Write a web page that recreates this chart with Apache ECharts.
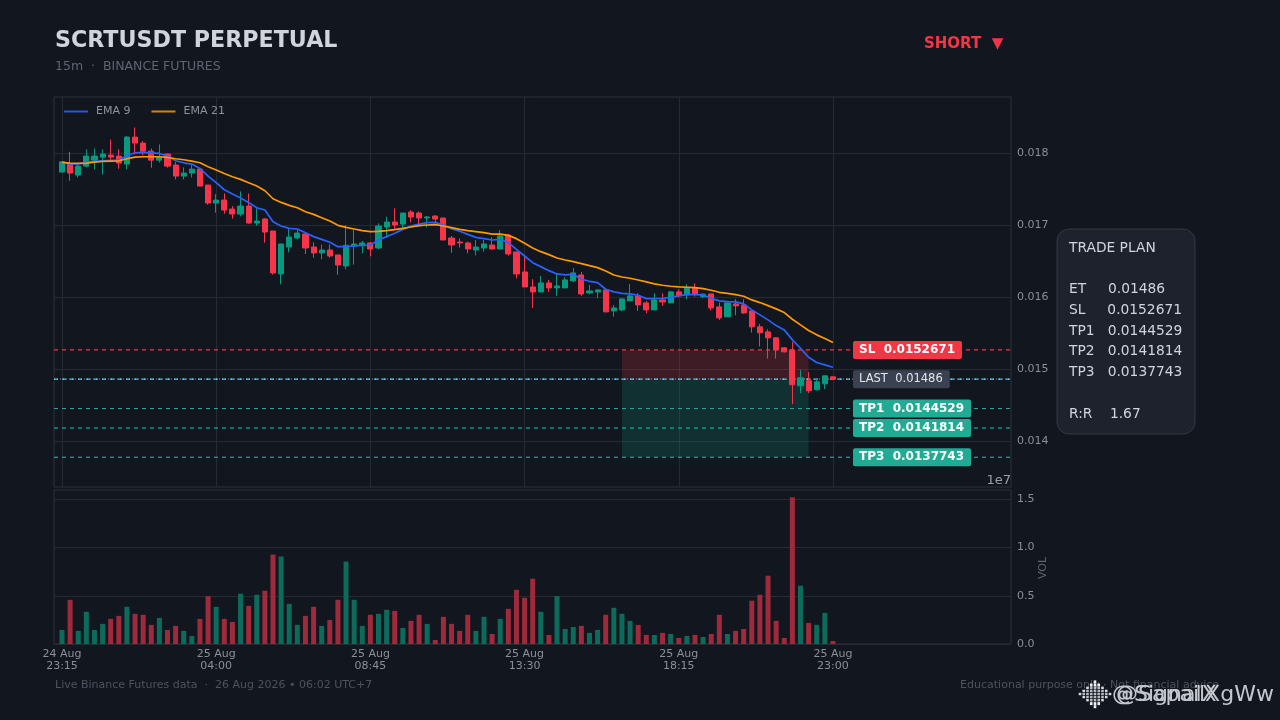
<!DOCTYPE html>
<html><head><meta charset="utf-8">
<script src="https://cdn.jsdelivr.net/npm/echarts@6/dist/echarts.min.js"></script>
<style>html,body{margin:0;padding:0;background:#12161f}#c{width:1280px;height:720px}</style>
</head><body><div id="c"></div>
<script>
const opens=[.017741,.017852,.017699,.017824,.017907,.017949,.017977,.017963,.017852,.018227,.018144,.018032,.017907,.017991,.017838,.017685,.017727,.017782,.017560,.017310,.017352,.017227,.017157,.017268,.017032,.017088,.016921,.016324,.016699,.016824,.016880,.016699,.016616,.016657,.016588,.016435,.016713,.016727,.016755,.016685,.016977,.017046,.017018,.017185,.017171,.017102,.017130,.017102,.016824,.016768,.016755,.016657,.016685,.016727,.016671,.016866,.016630,.016352,.016143,.016074,.016199,.016130,.016130,.016227,.016310,.016060,.016074,.016102,.015810,.015824,.015949,.016019,.015921,.015824,.015963,.015921,.016074,.016032,.016130,.016009,.016046,.015866,.015727,.015907,.015893,.015810,.015588,.015518,.015435,.015296,.015268,.014768,.014838,.014713,.014796,.014893];
const closes=[.017884,.017727,.017824,.017963,.017963,.017991,.017949,.017866,.018227,.018144,.018032,.017907,.017949,.017824,.017685,.017727,.017782,.017546,.017310,.017352,.017213,.017157,.017268,.017032,.017060,.016907,.016338,.016741,.016838,.016893,.016685,.016616,.016657,.016574,.016449,.016722,.016741,.016755,.016671,.016991,.017046,.017005,.017171,.017116,.017102,.017116,.017088,.016796,.016727,.016755,.016671,.016699,.016741,.016671,.016852,.016602,.016324,.016143,.016074,.016199,.016130,.016157,.016241,.016338,.016046,.016088,.016102,.015796,.015852,.015977,.016019,.015893,.015824,.015963,.015935,.016074,.016019,.016130,.016046,.016042,.015852,.015713,.015921,.015880,.015782,.015588,.015505,.015435,.015268,.015241,.014782,.014879,.014699,.014824,.014907,.014860];
const lows=[.017741,.017620,.017667,.017806,.017778,.017708,.017898,.017787,.017778,.017986,.017977,.017801,.017875,.017801,.017639,.017639,.017667,.017546,.017287,.017176,.017162,.017093,.017125,.017023,.016995,.016759,.016315,.016180,.016625,.016805,.016602,.016551,.016528,.016551,.016315,.016389,.016454,.016611,.016569,.016667,.016852,.016944,.016963,.017042,.017005,.016972,.017042,.016796,.016620,.016690,.016611,.016583,.016634,.016667,.016667,.016579,.016264,.016143,.015852,.016074,.016074,.016019,.016125,.016213,.016019,.016042,.015986,.015796,.015731,.015805,.015949,.015810,.015778,.015824,.015879,.015917,.016000,.015972,.016009,.015986,.015815,.015685,.015727,.015750,.015769,.015509,.015315,.015148,.015148,.015231,.014514,.014666,.014666,.014703,.014722,.014847];
const highs=[.017894,.018023,.017838,.018056,.018069,.018056,.018194,.018056,.018241,.018361,.018171,.018069,.018125,.018000,.017880,.017806,.017838,.017792,.017560,.017435,.017444,.017268,.017472,.017444,.017236,.017102,.016921,.016741,.016949,.016935,.016889,.016764,.016731,.016736,.016588,.017005,.016935,.016782,.016768,.017028,.017120,.017236,.017171,.017213,.017194,.017130,.017139,.017102,.016852,.016819,.016773,.016796,.016796,.016833,.016935,.016875,.016630,.016588,.016250,.016296,.016241,.016324,.016278,.016407,.016352,.016171,.016111,.016102,.015893,.015986,.016185,.016056,.015949,.016056,.016056,.016088,.016111,.016180,.016194,.016056,.016046,.015926,.015921,.015972,.015972,.015810,.015630,.015555,.015444,.015305,.015379,.014991,.014958,.014875,.014912,.014898];
const ema9=[.017875,.017856,.017856,.017875,.017889,.017898,.017903,.017907,.017972,.018009,.018014,.018009,.018000,.017963,.017898,.017870,.017852,.017792,.017685,.017593,.017495,.017435,.017380,.017319,.017245,.017213,.017051,.016991,.016958,.016949,.016898,.016843,.016805,.016764,.016704,.016704,.016713,.016722,.016727,.016796,.016843,.016889,.016944,.016991,.017018,.017037,.017042,.017005,.016954,.016917,.016875,.016833,.016815,.016796,.016805,.016759,.016667,.016574,.016481,.016426,.016370,.016324,.016310,.016319,.016250,.016222,.016204,.016111,.016074,.016055,.016046,.016028,.015981,.015981,.015986,.015995,.016023,.016037,.016037,.016032,.015986,.015949,.015940,.015935,.015907,.015824,.015755,.015685,.015606,.015546,.015407,.015291,.015166,.015092,.015060,.015027];
const ema21=[.017875,.017866,.017861,.017866,.017880,.017889,.017894,.017898,.017926,.017949,.017954,.017954,.017954,.017944,.017926,.017912,.017894,.017870,.017815,.017769,.017722,.017676,.017639,.017593,.017546,.017481,.017370,.017319,.017278,.017245,.017190,.017153,.017106,.017060,.017000,.016972,.016949,.016926,.016912,.016917,.016926,.016940,.016958,.016977,.016995,.017005,.017009,.016991,.016968,.016944,.016926,.016912,.016898,.016879,.016879,.016861,.016815,.016750,.016685,.016634,.016593,.016546,.016518,.016495,.016468,.016440,.016412,.016366,.016310,.016282,.016264,.016240,.016213,.016185,.016167,.016153,.016143,.016139,.016134,.016120,.016097,.016069,.016055,.016037,.016014,.015963,.015926,.015884,.015838,.015787,.015694,.015616,.015537,.015477,.015426,.015370];
const volumes=[.146,.459,.136,.334,.146,.209,.261,.292,.386,.313,.303,.198,.271,.146,.188,.136,.083,.261,.497,.386,.261,.229,.522,.396,.511,.553,.928,.908,.417,.198,.292,.386,.188,.250,.459,.855,.459,.188,.303,.313,.355,.344,.167,.240,.303,.209,.042,.282,.209,.136,.303,.136,.282,.104,.261,.365,.563,.480,.678,.334,.094,.497,.156,.177,.188,.115,.146,.303,.376,.313,.240,.198,.094,.094,.115,.104,.063,.083,.094,.073,.104,.303,.104,.136,.156,.449,.511,.709,.240,.063,1.523,.605,.219,.198,.323,.031];
const tickIndex=[0,19,38,57,76,95];
const tickLabels=["24 Aug\n23:15","25 Aug\n04:00","25 Aug\n08:45","25 Aug\n13:30","25 Aug\n18:15","25 Aug\n23:00"];
const priceTicks=[0.014,0.015,0.016,0.017,0.018];
const volTicks=[0,0.5,1.0,1.5];
const SL=0.0152671,ET=0.01486,LAST=0.01486,TP1=0.0144529,TP2=0.0141814,TP3=0.0137743;
const planLines=["TRADE PLAN","","ET     0.01486","SL     0.0152671","TP1   0.0144529","TP2   0.0141814","TP3   0.0137743","","R:R    1.67"];

const BG="#12161f",UP="#089981",DOWN="#f7344a",GRID="#262a33",SPINE="#2c303a",TXT="#8b8f99",F="DejaVu Sans";
const XMIN=-0.986,XMAX=116.94,ZONE0=69,ZONE1=92,LABX=97.47;

const chart=echarts.init(document.getElementById('c'),null,{renderer:'canvas'});
const level=(name,y,c,t)=>({name,type:'line',xAxisIndex:0,yAxisIndex:0,z:2,symbol:'none',showSymbol:false,silent:true,data:[[XMIN,y],[XMAX,y]],lineStyle:{color:c,type:t,width:1.2}});
const tag=(y,text,bg,bold)=>({value:[LABX,y],label:{show:true,position:'right',distance:0,formatter:text,color:bold?'#fff':'#e4e6ea',fontFamily:F,fontSize:bold?12:11.5,fontWeight:bold?'bold':'normal',backgroundColor:bg,padding:[3,7,3,6],borderRadius:2}});

// diamond logo, built from small squares
const logo=[];
const logoRows=[[0],[-1,0,1],[-2,-1,0,1,2],[-3,-2,-1,0,1,2,3],[-4,-3,-2,-1,0,1,2,3,4],[-3,-2,-1,0,1,2,3],[-2,-1,0,1,2],[-1,0,1],[0]];
logoRows.forEach((r,j)=>r.forEach(i=>{const hi=(j<=1||j>=7);logo.push({type:'rect',x:1095+i*3.75-1.3,y:694+(j-4)*3.1-1.2,shape:{width:2.6,height:hi?3:2.4},style:{fill:hi?'#f0f1f3':(Math.abs(i)+Math.abs(j-4)>3?'#d8dae0':'#b8bbc3')},z:60});}));

chart.setOption({
 animation:false,backgroundColor:BG,
 textStyle:{fontFamily:F},
 legend:{left:59,top:101,itemWidth:24,itemHeight:2,itemGap:21,icon:'rect',data:['EMA 9','EMA 21'],textStyle:{color:'#8f939c',fontSize:11,fontFamily:F,padding:[0,0,0,3]},itemStyle:{opacity:.85}},
 grid:[{left:54,right:269,top:97,height:390,show:true,backgroundColor:'transparent',borderColor:SPINE,borderWidth:1},
       {left:54,right:269,top:490,bottom:76,show:true,backgroundColor:'transparent',borderColor:SPINE,borderWidth:1}],
 xAxis:[
  {type:'value',gridIndex:0,min:XMIN,max:XMAX,axisLine:{show:false},axisTick:{show:false,customValues:tickIndex},axisLabel:{show:false,customValues:tickIndex},splitLine:{show:true,lineStyle:{color:GRID,width:1}}},
  {type:'value',gridIndex:1,min:XMIN,max:XMAX,axisLine:{show:false},axisTick:{show:false,customValues:tickIndex},axisLabel:{show:true,customValues:tickIndex,color:TXT,fontSize:11,fontFamily:F,lineHeight:12,margin:4,formatter:v=>tickLabels[tickIndex.indexOf(Math.round(v))]},splitLine:{show:false}}
 ],
 yAxis:[
  {type:'value',gridIndex:0,position:'right',min:0.013361,max:0.018785,scale:true,axisLine:{show:false},axisTick:{show:false,customValues:priceTicks},axisLabel:{customValues:priceTicks,color:TXT,fontSize:11,fontFamily:F,margin:6,padding:[2,0,0,0],formatter:v=>v.toFixed(3)},splitLine:{show:true,lineStyle:{color:GRID,width:1}}},
  {type:'value',gridIndex:1,position:'right',min:0,max:1.598,axisLine:{show:false},axisTick:{show:false,customValues:volTicks},axisLabel:{customValues:volTicks,color:TXT,fontSize:11,fontFamily:F,margin:6,padding:[2,0,0,0],formatter:v=>v.toFixed(1)},splitLine:{show:true,lineStyle:{color:GRID,width:1}}}
 ],
 series:[
  {name:'Price',type:'candlestick',xAxisIndex:0,yAxisIndex:0,barWidth:5.6,z:3,
   data:opens.map((o,i)=>[i,o,closes[i],lows[i],highs[i]]),
   itemStyle:{color:UP,color0:DOWN,borderColor:UP,borderColor0:DOWN,borderWidth:1},
   markArea:{silent:true,z:1,data:[
     [{coord:[ZONE0,SL],itemStyle:{color:'rgba(242,54,69,0.2)'}},{coord:[ZONE1,ET]}],
     [{coord:[ZONE0,ET],itemStyle:{color:'rgba(8,153,129,0.2)'}},{coord:[ZONE1,TP3]}]
   ]}},
  level('SL line',SL,'#f23645',[4,4]),
  level('ET line',ET,'#4fc3f7',[4,4]),
  level('LAST line',LAST,'rgba(255,255,255,0.45)',[1,2]),
  level('TP1 line',TP1,'#26a69a',[4,4]),
  level('TP2 line',TP2,'#26a69a',[4,4]),
  level('TP3 line',TP3,'#26a69a',[4,4]),
  {name:'EMA 9',type:'line',xAxisIndex:0,yAxisIndex:0,z:4,showSymbol:false,symbol:'none',data:ema9.map((v,i)=>[i,v]),lineStyle:{color:'#2962ff',width:1.7},itemStyle:{color:'#2962ff'}},
  {name:'EMA 21',type:'line',xAxisIndex:0,yAxisIndex:0,z:4,showSymbol:false,symbol:'none',data:ema21.map((v,i)=>[i,v]),lineStyle:{color:'#ff9800',width:1.7},itemStyle:{color:'#ff9800'}},
  {name:'Volume',type:'bar',xAxisIndex:1,yAxisIndex:1,barWidth:5,
   data:volumes.map((v,i)=>({value:[i,v],itemStyle:{color:closes[i]>=opens[i]?'#0d6b5b':'#9e2a3c'}}))},
  {name:'Levels',type:'scatter',xAxisIndex:0,yAxisIndex:0,symbolSize:0,z:10,silent:true,clip:false,itemStyle:{opacity:1},
   data:[tag(SL,'SL  0.0152671','#f23645',true),tag(LAST,'LAST  0.01486','#3a4252',false),tag(TP1,'TP1  0.0144529','#22ab94',true),tag(TP2,'TP2  0.0141814','#22ab94',true),tag(TP3,'TP3  0.0137743','#22ab94',true)]}
 ],
 graphic:[
  {type:'text',x:55,y:30,z:50,style:{text:'SCRTUSDT PERPETUAL',fill:'#d1d4dc',font:'bold 22.2px "DejaVu Sans"'}},
  {type:'text',x:55,y:60,z:50,style:{text:'15m  ·  BINANCE FUTURES',fill:'#5f6470',font:'12.5px "DejaVu Sans"'}},
  {type:'text',x:924,y:37,z:50,style:{text:'SHORT  ▼',fill:'#f23645',font:'bold 15px "DejaVu Sans"'}},
  {type:'text',x:1011,y:474,z:50,style:{text:'1e7',fill:'#9a9ea8',font:'13px "DejaVu Sans"',textAlign:'right'}},
  {type:'text',x:1043,y:568,rotation:Math.PI/2,z:50,style:{text:'VOL',fill:'#5f6470',font:'11px "DejaVu Sans"',textAlign:'center',textVerticalAlign:'middle'}},
  {type:'rect',x:1057,y:229,z:40,shape:{width:138,height:205,r:12},style:{fill:'#1e222d',stroke:'#343843',lineWidth:1}},
  {type:'text',x:1069,y:238,z:50,style:{text:planLines.join('\n'),fill:'#d1d4dc',font:'13.8px "DejaVu Sans"',lineHeight:20.7}},
  {type:'text',x:55,y:680,z:50,style:{text:'Live Binance Futures data  ·  26 Aug 2026 • 06:02 UTC+7',fill:'#4d525d',font:'11px "DejaVu Sans"'}},
  {type:'text',x:1219,y:680,z:50,style:{text:'Educational purpose only · Not financial advice',fill:'#4d525d',font:'11px "DejaVu Sans"',textAlign:'right'}},
  {type:'text',x:1112,y:684,z:55,style:{text:'@SignalX',fill:'#c4c7ce',font:'22px "DejaVu Sans"'}},
  {type:'text',x:1116,y:684,z:56,style:{text:'@SapailXgWw',fill:'#c4c7ce',font:'22px "DejaVu Sans"'}},
  ...logo
 ]
});
</script></body></html>
